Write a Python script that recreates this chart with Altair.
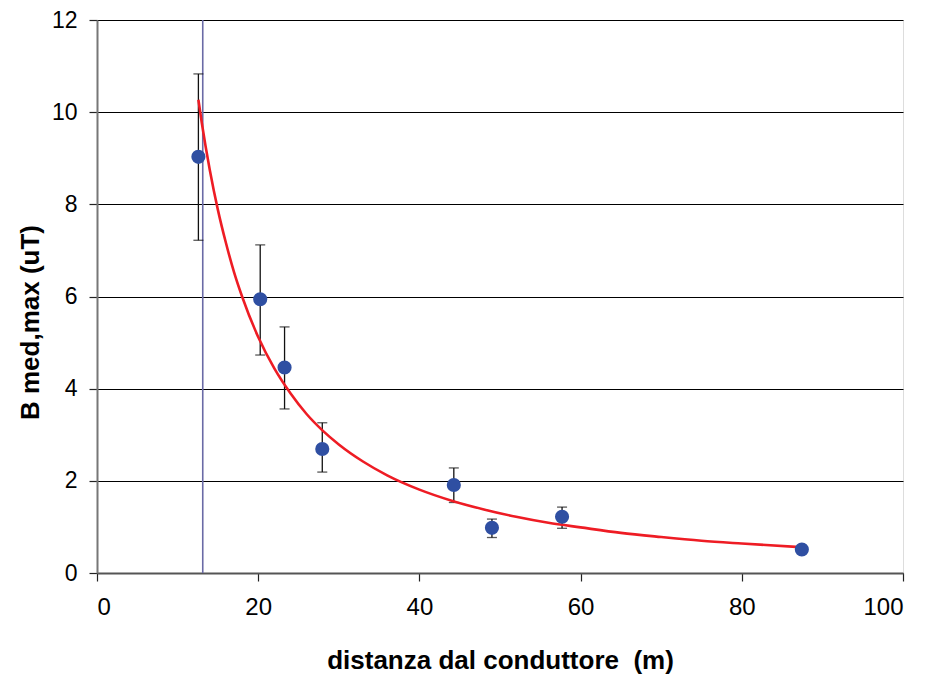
import altair as alt
import pandas as pd

# measured points
dist = [12.58, 20.25, 23.27, 27.95, 44.27, 49.0, 57.7, 87.45]
bval = [9.03, 5.94, 4.46, 2.69, 1.91, 0.98, 1.22, 0.51]
err_lo = [7.22, 4.73, 3.56, 2.19, 1.53, 0.77, 0.97, 0.51]
err_hi = [10.83, 7.12, 5.34, 3.26, 2.28, 1.17, 1.43, 0.51]

# fitted curve
fit_x = [12.58, 13, 14, 15, 16, 17, 18, 20, 22, 24, 26, 28, 30, 33, 36, 40,
         44, 48, 52, 56, 60, 65, 70, 75, 80, 87.45]
fit_y = [10.27, 9.77, 8.74, 7.88, 7.16, 6.53, 6.0, 5.12, 4.44, 3.90, 3.45,
         3.09, 2.79, 2.42, 2.12, 1.81, 1.57, 1.38, 1.22, 1.09, 0.99, 0.87,
         0.78, 0.70, 0.64, 0.56]

# vertical reference line
vline_x = [13.12]

pts = pd.DataFrame({"d": dist, "b": bval, "lo": err_lo, "hi": err_hi})
fit = pd.DataFrame({"d": fit_x, "b": fit_y})
vl = pd.DataFrame({"d": vline_x})

xscale = alt.Scale(domain=[0, 100], nice=False, zero=False)
yscale = alt.Scale(domain=[0, 12], nice=False)

xaxis = alt.Axis(
    title="distanza dal conduttore\u00a0 (m)",
    values=[0, 20, 40, 60, 80, 100],
    grid=False,
    tickSize=8, tickColor="#222", tickWidth=1.2,
    domainColor="#555", domainWidth=2,
    labelFont="Liberation Sans",
    labelFontSize=24, labelColor="#000", labelPadding=14,
    titleFont="Liberation Sans", titleFontSize=26, titleFontWeight="bold",
    titleColor="#000", titleBaseline="alphabetic", titleY=95,
)
yaxis = alt.Axis(
    title="B med,max (uT)",
    values=[0, 2, 4, 6, 8, 10, 12],
    grid=True, gridColor="#000", gridWidth=1,
    tickSize=8, tickColor="#222", tickWidth=1.2,
    domainColor="#777", domainWidth=2,
    labelFont="Liberation Sans", labelFontSize=23, labelColor="#000",
    labelPadding=12,
    titleFont="Liberation Sans", titleFontSize=26, titleFontWeight="bold",
    titleColor="#000", titleX=-67, titleY=302, titleAlign="center",
    titleBaseline="middle",
)

base_rule = alt.Chart(vl).mark_rule(color="#6a6aa6", strokeWidth=1.6).encode(
    x=alt.X("d:Q", scale=xscale, axis=xaxis),
    y=alt.value(0),
    y2=alt.value(553),
)

err_rule = alt.Chart(pts).mark_rule(color="#111", strokeWidth=1.3).encode(
    x=alt.X("d:Q", scale=xscale),
    y=alt.Y("lo:Q", scale=yscale, axis=yaxis),
    y2="hi:Q",
)
cap_hi = alt.Chart(pts).mark_tick(color="#111", thickness=1.3, size=10,
                                  orient="horizontal").encode(
    x=alt.X("d:Q", scale=xscale), y=alt.Y("hi:Q", scale=yscale))
cap_lo = alt.Chart(pts).mark_tick(color="#111", thickness=1.3, size=10,
                                  orient="horizontal").encode(
    x=alt.X("d:Q", scale=xscale), y=alt.Y("lo:Q", scale=yscale))

curve = alt.Chart(fit).mark_line(color="#ee1c24", strokeWidth=2.6,
                                 interpolate="monotone").encode(
    x=alt.X("d:Q", scale=xscale), y=alt.Y("b:Q", scale=yscale))

dots = alt.Chart(pts).mark_circle(color="#2f4fa2", opacity=1, size=200).encode(
    x=alt.X("d:Q", scale=xscale), y=alt.Y("b:Q", scale=yscale))

chart = alt.layer(err_rule, base_rule, cap_hi, cap_lo, curve, dots).properties(
    width=806, height=553,
    autosize=alt.AutoSizeParams(type="none"),
    padding={"left": 89, "top": 12, "right": 12, "bottom": 101},
).configure_view(stroke="#999", strokeWidth=2).configure(background="white")

chart.save("out.html", embed_options={"renderer": "svg", "actions": False})
